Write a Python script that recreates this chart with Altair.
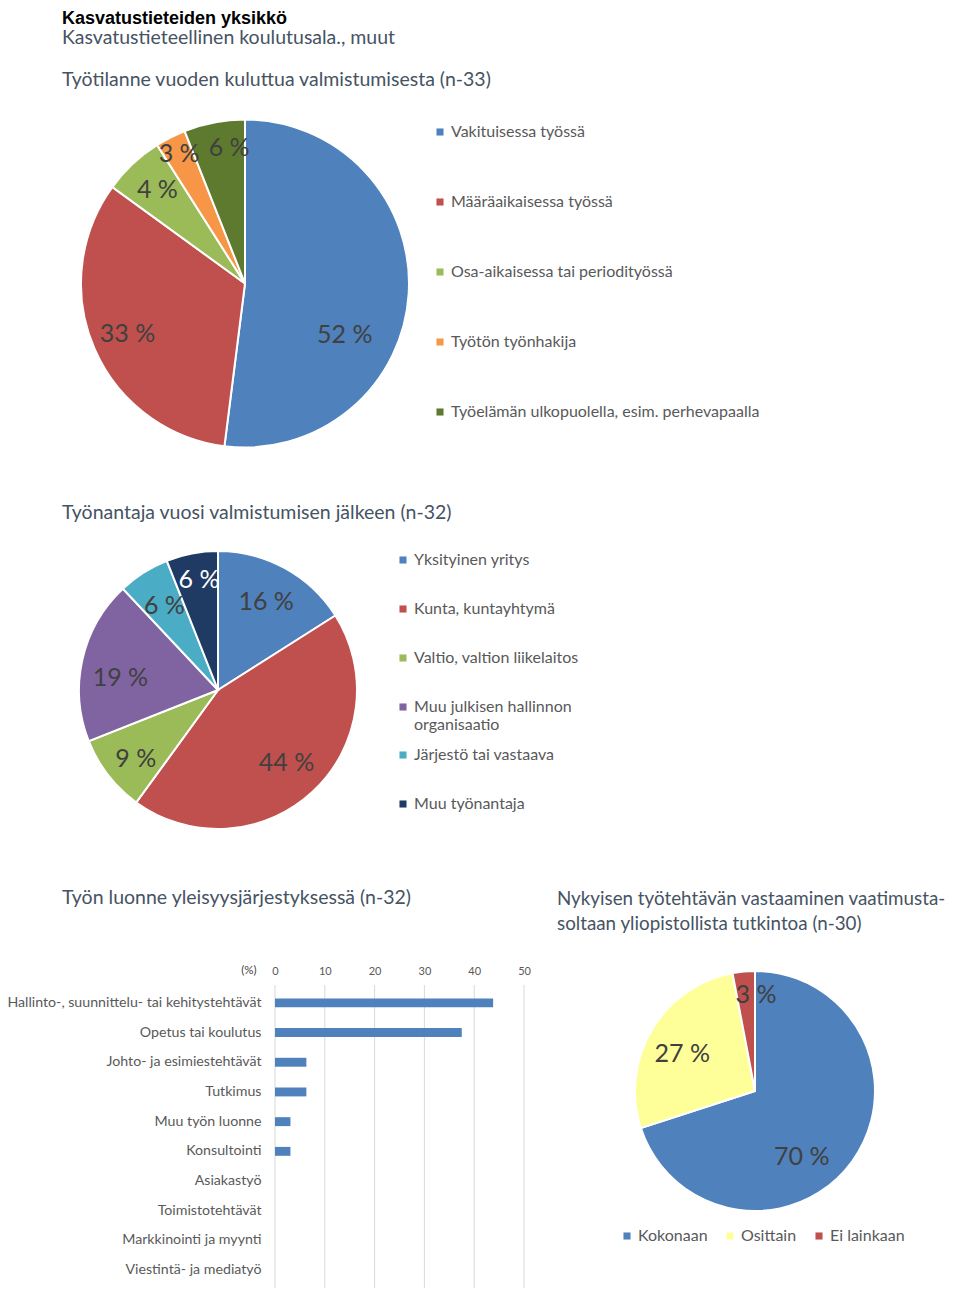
import altair as alt
import pandas as pd

# ---------------- texts ----------------
otsikko = "Kasvatustieteiden yksikkö"
alaotsikko = "Kasvatustieteellinen koulutusala., muut"
otsikko1 = "Työtilanne vuoden kuluttua valmistumisesta (n-33)"
otsikko2 = "Työnantaja vuosi valmistumisen jälkeen (n-32)"
otsikko3 = "Työn luonne yleisyysjärjestyksessä (n-32)"
otsikko4_rivi1 = "Nykyisen työtehtävän vastaaminen vaatimusta-"
otsikko4_rivi2 = "soltaan yliopistollista tutkintoa (n-30)"

# ---------------- pie 1 ----------------
tyotilanne = ["Vakituisessa työssä", "Määräaikaisessa työssä",
              "Osa-aikaisessa tai periodityössä", "Työtön työnhakija",
              "Työelämän ulkopuolella, esim. perhevapaalla"]
tyotilanne_osuus = [52, 33, 6, 3, 6]
tyotilanne_nimio = ["52 %", "33 %", "4 %", "3 %", "6 %"]
tyotilanne_varit = ["#4F81BD", "#C0504D", "#9BBB59", "#F79646", "#5E7A2E"]

# ---------------- pie 2 ----------------
tyonantaja = ["Yksityinen yritys", "Kunta, kuntayhtymä", "Valtio, valtion liikelaitos",
              "Muu julkisen hallinnon organisaatio", "Järjestö tai vastaava", "Muu työnantaja"]
tyonantaja_osuus = [16, 44, 9, 19, 6, 6]
tyonantaja_nimio = ["16 %", "44 %", "9 %", "19 %", "6 %", "6 %"]
tyonantaja_varit = ["#4F81BD", "#C0504D", "#9BBB59", "#8064A2", "#4BACC6", "#1F3B63"]

# ---------------- pie 3 ----------------
vastaavuus = ["Kokonaan", "Osittain", "Ei lainkaan"]
vastaavuus_osuus = [70, 27, 3]
vastaavuus_nimio = ["70 %", "27 %", "3 %"]
vastaavuus_varit = ["#4F81BD", "#FFFF99", "#C0504D"]

# ---------------- bars ----------------
tehtavat = ["Hallinto-, suunnittelu- tai kehitystehtävät", "Opetus tai koulutus",
            "Johto- ja esimiestehtävät", "Tutkimus", "Muu työn luonne", "Konsultointi",
            "Asiakastyö", "Toimistotehtävät", "Markkinointi ja myynti", "Viestintä- ja mediatyö"]
tehtavat_osuus = [43.8, 37.5, 6.3, 6.3, 3.1, 3.1, 0, 0, 0, 0]
x_tikit = [0, 10, 20, 30, 40, 50]

FONT = "Lato"
HEAD_COLOR = "#465363"
LABEL_COLOR = "#404040"
LEG_COLOR = "#595959"
PIE_FS = 25


def otsikko_kerros(teksti, x, y, size=19.5, bold=False, color=HEAD_COLOR, font=FONT,
                   baseline="alphabetic"):
    return alt.Chart(pd.DataFrame({"t": [teksti]})).mark_text(
        align="left", baseline=baseline, font=font, fontSize=size,
        fontWeight="bold" if bold else "normal", color=color
    ).encode(x=alt.value(x), y=alt.value(y), text="t:N")


def piirakka(kentta, luokat, arvot, nimiot, varit, cx, cy, r, lr, legends,
             valkoinen=None, erikois=None):
    df = pd.DataFrame({kentta: luokat, "arvo": arvot, "nimio": nimiot,
                       "jarj": list(range(len(luokat)))})
    base = alt.Chart(df).encode(
        theta=alt.Theta("arvo:Q", stack=True),
        order=alt.Order("jarj:Q"),
    )
    scale = alt.Scale(domain=luokat, range=varit)
    layers = []
    for i, lg in enumerate(legends):
        layers.append(base.mark_arc(radius=r if i == 0 else 0, stroke="white",
                                    strokeWidth=2 if i == 0 else 0).encode(
            x=alt.value(cx), y=alt.value(cy),
            color=alt.Color(f"{kentta}:N", sort=luokat, scale=scale, legend=lg),
        ))
    if valkoinen is not None:
        tcol = alt.condition(alt.datum[kentta] == valkoinen, alt.value("white"), alt.value(LABEL_COLOR))
    else:
        tcol = alt.value(LABEL_COLOR)
    erikois = erikois or {}
    muut = " && ".join([f"datum['{kentta}'] != '{l}'" for l in erikois]) or "true"
    layers.append(base.mark_text(radius=lr, font=FONT, fontSize=PIE_FS).encode(
        x=alt.value(cx), y=alt.value(cy), color=tcol,
        text=alt.condition(muut, alt.Text("nimio:N"), alt.value("")),
    ))
    for luokka, (rr, dx, dy) in erikois.items():
        layers.append(base.mark_text(radius=rr, dx=dx, dy=dy, font=FONT, fontSize=PIE_FS).encode(
            x=alt.value(cx), y=alt.value(cy), color=tcol,
            text=alt.condition(f"datum['{kentta}'] == '{luokka}'", alt.Text("nimio:N"), alt.value("")),
        ))
    return layers


leg_common = dict(orient="none", title=None, symbolType="square", symbolSize=50,
                  labelFont=FONT, labelColor=LEG_COLOR, padding=0,
                  symbolStrokeWidth=0, labelLimit=400, labelOffset=3, labelFontSize=16)

legend1 = alt.Legend(legendX=424, legendY=116, rowPadding=54, **leg_common)
legend2a = alt.Legend(legendX=387, legendY=544, rowPadding=33, values=tyonantaja[:4],
                      labelExpr="datum.label == 'Muu julkisen hallinnon organisaatio' ? ['Muu julkisen hallinnon', 'organisaatio'] : datum.label",
                      **leg_common)
legend2b = alt.Legend(legendX=387, legendY=739, rowPadding=33, values=tyonantaja[4:], **leg_common)
legend3 = alt.Legend(legendX=611, legendY=1220, direction="horizontal", columnPadding=14, **leg_common)

pie1 = piirakka("tyotilanne", tyotilanne, tyotilanne_osuus, tyotilanne_nimio, tyotilanne_varit,
                237, 275.5, 164, 128, [legend1],
                erikois={"Vakituisessa työssä": (100, 0, 45),
                         "Työtön työnhakija": (145, 0, 0),
                         "Työelämän ulkopuolella, esim. perhevapaalla": (138, 10, 0)})
pie2 = piirakka("tyonantaja", tyonantaja, tyonantaja_osuus, tyonantaja_nimio, tyonantaja_varit,
                210, 682, 139, 100, [legend2a, legend2b], valkoinen="Muu työnantaja",
                erikois={"Muu työnantaja": (112, 2, 0),
                         "Muu julkisen hallinnon organisaatio": (100, 0, 10),
                         "Valtio, valtion liikelaitos": (104, 0, 5)})
pie3 = piirakka("vastaavuus", vastaavuus, vastaavuus_osuus, vastaavuus_nimio, vastaavuus_varit,
                747, 1083, 120, 88, [legend3],
                erikois={"Kokonaan": (80, -18, 19), "Osittain": (88, 3, 8), "Ei lainkaan": (96, 10, 0)})

# ---------------- bar chart ----------------
x_scale = alt.Scale(domain=[0, 50], range=[267, 516])
x_axis = alt.Axis(orient="top", offset=-970, values=x_tikit, grid=False, domain=False,
                  ticks=False, labelPadding=2, labelFont=FONT, labelFontSize=11, labelFlush=False,
                  labelColor=LEG_COLOR, title="(%)", titleX=248, titleY=-8,
                  titleAlign="right", titleBaseline="middle", titleFont=FONT,
                  titleFontSize=11.5, titleFontWeight="normal", titleColor=LABEL_COLOR)

grid_df = pd.DataFrame({"osuus": x_tikit})
grid = alt.Chart(grid_df).mark_rule(color="#D9D9D9", strokeWidth=1).encode(
    x=alt.X("osuus:Q", scale=x_scale, axis=x_axis),
    y=alt.value(977), y2=alt.value(1280),
)

bar_df = pd.DataFrame({"tehtava": tehtavat, "osuus": tehtavat_osuus})
bars = alt.Chart(bar_df).mark_bar(color="#4F81BD").encode(
    x=alt.X("osuus:Q", scale=x_scale, axis=x_axis),
    y=alt.Y("tehtava:N", sort=tehtavat,
            scale=alt.Scale(domain=tehtavat, range=[980, 1277], paddingInner=0.7, paddingOuter=0.35),
            axis=alt.Axis(orient="left", offset=-267, labelPadding=14, ticks=False, domain=False,
                          title=None, labelFont=FONT, labelFontSize=14.2, labelColor=LEG_COLOR,
                          labelLimit=400)),
)

# ---------------- headings ----------------
heads = [
    otsikko_kerros(otsikko, 54, 2, size=18, bold=True, color="black", font="Liberation Sans",
                   baseline="top"),
    otsikko_kerros(alaotsikko, 54, 36),
    otsikko_kerros(otsikko1, 54, 78),
    otsikko_kerros(otsikko2, 54, 511),
    otsikko_kerros(otsikko3, 54, 896),
    otsikko_kerros(otsikko4_rivi1, 549, 897, size=18.8),
    otsikko_kerros(otsikko4_rivi2, 549, 922, size=18.8),
]

chart = alt.layer(*heads, *pie1, *pie2, *pie3, grid, bars).resolve_scale(
    theta="independent", color="independent"
).properties(
    width=944, height=1280, padding=0,
    autosize=alt.AutoSizeParams(type="none"),
).configure_view(stroke=None)

chart.save("out.html", embed_options={"renderer": "svg", "actions": False})
